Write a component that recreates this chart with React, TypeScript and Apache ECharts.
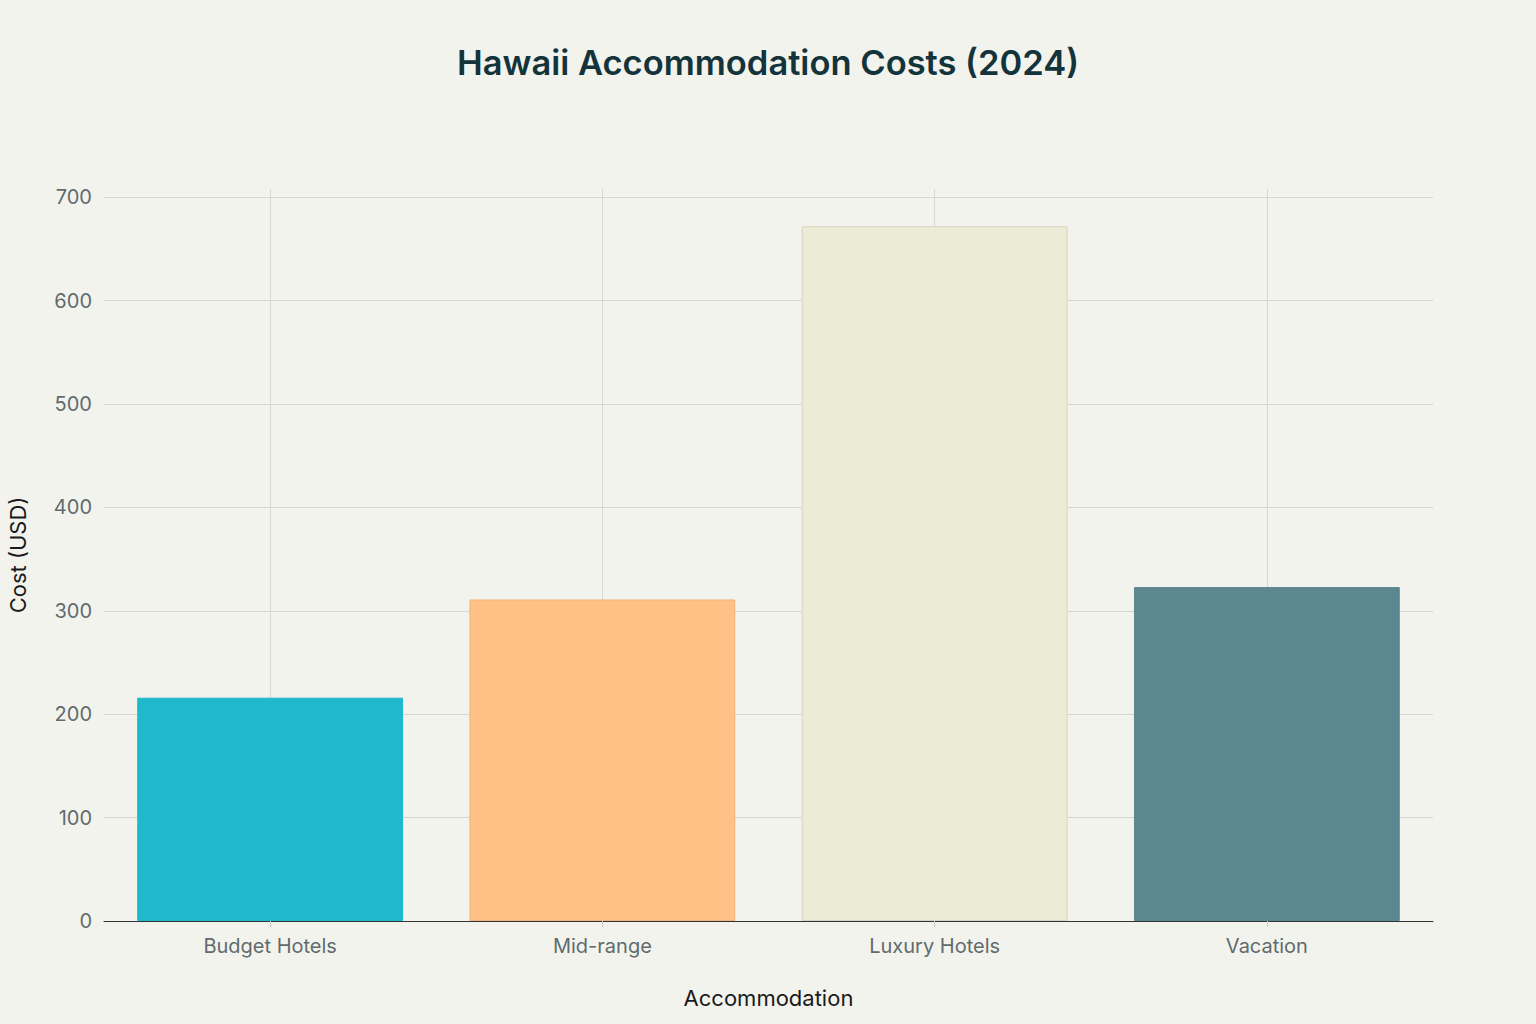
import React, { useEffect, useRef } from "react";
import * as echarts from "echarts";

const categories = ["Budget Hotels", "Mid-range", "Luxury Hotels", "Vacation"];
const costs = [216, 311, 672, 323];
const barColors = ["#1FB8CD", "#FFC185", "#ECEBD5", "#5D878F"];
const barBorders = ["#1FB8CD", "#F0B47C", "#D6D4C2", "#5D878F"];
const yGridValues = [100, 200, 300, 400, 500, 600, 700];

export default function App() {
  const ref = useRef<HTMLDivElement>(null);
  useEffect(() => {
    if (!ref.current) return;
    const chart = echarts.init(ref.current, null, { renderer: "svg" });
    const font = "Inter, 'Noto Sans', sans-serif";
    chart.setOption({
      animation: false,
      backgroundColor: "#F3F3EE",
      title: {
        text: "Hawaii Accommodation Costs (2024)",
        left: "center",
        top: 40,
        textStyle: { fontFamily: font, fontSize: 34.5, fontWeight: 600, color: "#13343B" },
      },
      grid: { left: 104, right: 103, top: 189, bottom: 103, containLabel: false, outerBoundsMode: "none" },
      xAxis: {
        type: "category",
        data: categories,
        name: "Accommodation",
        nameLocation: "middle",
        nameGap: 66,
        nameTextStyle: { fontFamily: font, fontSize: 22, color: "#1a1a1a" },
        axisLine: { show: true, lineStyle: { color: "#333333", width: 1 } },
        axisTick: { show: true, alignWithLabel: true, length: 6, lineStyle: { color: "#cccccc" } },
        axisLabel: { fontFamily: font, fontSize: 20, color: "#5f6b6d", margin: 15 },
        splitLine: { show: false },
      },
      yAxis: {
        type: "value",
        min: 0,
        max: 708,
        interval: 100,
        name: "Cost (USD)",
        nameLocation: "middle",
        nameGap: 75,
        nameTextStyle: { fontFamily: font, fontSize: 22, color: "#1a1a1a" },
        axisLine: { show: false },
        axisTick: { show: false },
        axisLabel: { fontFamily: font, fontSize: 20, color: "#5f6b6d", margin: 12, showMaxLabel: false },
        splitLine: { show: false },
      },
      series: [
        {
          type: "line",
          data: [],
          z: 0,
          silent: true,
          markLine: {
            silent: true,
            z: 0,
            symbol: "none",
            label: { show: false },
            animation: false,
            lineStyle: { color: "#D6D6D2", width: 1, type: "solid" },
            data: [
              ...yGridValues.map((v) => ({ yAxis: v })),
              ...categories.map((c) => ({ xAxis: c })),
            ],
          },
        },
        {
          type: "bar",
          z: 10,
          barCategoryGap: "20%",
          data: costs.map((v, i) => ({
            value: v,
            itemStyle: { color: barColors[i], borderColor: barBorders[i], borderWidth: 1 },
          })),
        },
      ],
    });
    return () => chart.dispose();
  }, []);
  return <div ref={ref} style={{ width: 1536, height: 1024, position: "absolute", left: 0, top: 0 }} />;
}
